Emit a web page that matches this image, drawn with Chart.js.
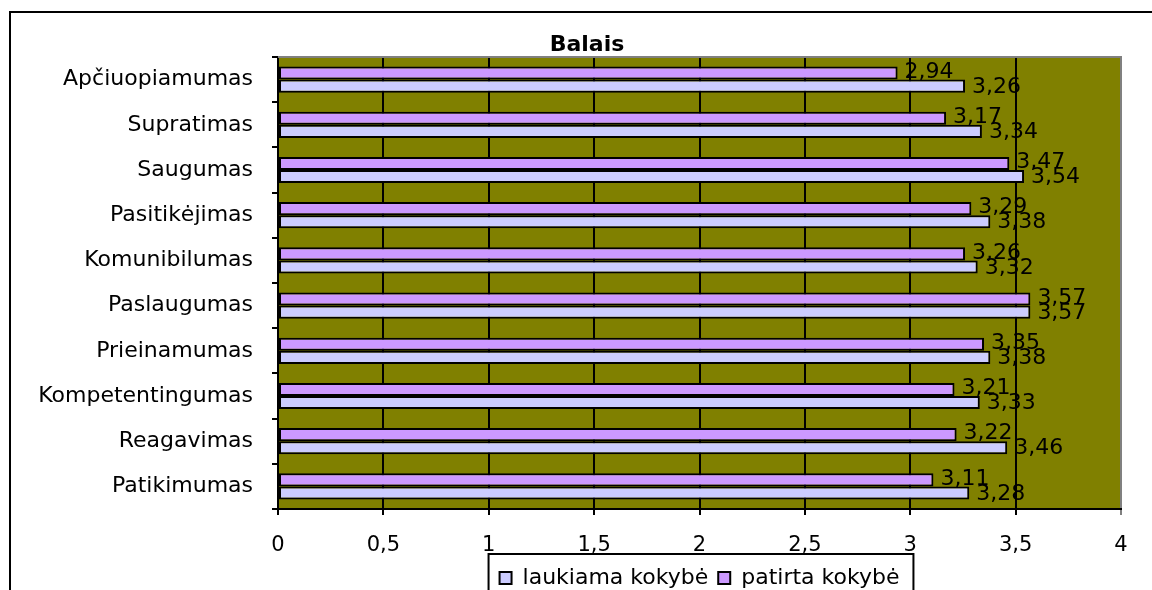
<!DOCTYPE html>
<html>
<head>
<meta charset="utf-8">
<script src="https://cdn.jsdelivr.net/npm/chart.js@4/dist/chart.umd.min.js"></script>
<style>
  body { margin: 0; background: #fff; }
  canvas { display: block; }
</style>
</head>
<body>
<canvas id="kokybeChart" width="1152" height="590"></canvas>
<script>
const categories = [
  "Apčiuopiamumas",
  "Supratimas",
  "Saugumas",
  "Pasitikėjimas",
  "Komunibilumas",
  "Paslaugumas",
  "Prieinamumas",
  "Kompetentingumas",
  "Reagavimas",
  "Patikimumas"
];
const laukiama = [3.26, 3.34, 3.54, 3.38, 3.32, 3.57, 3.38, 3.33, 3.46, 3.28];
const patirta  = [2.94, 3.17, 3.47, 3.29, 3.26, 3.57, 3.35, 3.21, 3.22, 3.11];
const xTicks = [0, 0.5, 1, 1.5, 2, 2.5, 3, 3.5, 4];
const chartTitle = "Balais";

const FONT = "'DejaVu Sans', sans-serif";

function fmt(v) {
  return String(v).replace(".", ",");
}

// olive plot background, outer frame, grey top edge of the plot, title
const backdrop = {
  id: "backdrop",
  beforeDraw(chart) {
    const { ctx, chartArea: a } = chart;
    ctx.save();
    ctx.fillStyle = "#000";
    ctx.fillRect(9, 11, 2, 700);
    ctx.fillRect(9, 11, 1300, 2);
    ctx.fillStyle = "#808000";
    ctx.fillRect(a.left, a.top, a.right - a.left, a.bottom - a.top);
    // title sits centred on the outer frame, not on the plot
    ctx.fillStyle = "#000";
    ctx.font = "bold 22px " + FONT;
    ctx.textAlign = "center";
    ctx.textBaseline = "middle";
    ctx.fillText(chartTitle, 587, 45);
    ctx.restore();
  },
  beforeDatasetsDraw(chart) {
    const { ctx, chartArea: a } = chart;
    ctx.save();
    ctx.fillStyle = "#808080";
    ctx.fillRect(a.left, a.top - 1, a.right - a.left + 1, 2);
    ctx.restore();
  }
};

// value labels at bar ends + box round the legend
const valueLabels = {
  id: "valueLabels",
  afterDatasetsDraw(chart) {
    const { ctx } = chart;
    ctx.save();
    ctx.font = "22px " + FONT;
    ctx.fillStyle = "#000";
    ctx.textAlign = "left";
    ctx.textBaseline = "middle";
    chart.data.datasets.forEach((ds, i) => {
      const meta = chart.getDatasetMeta(i);
      const dy = i === 0 ? -1 : 1;
      meta.data.forEach((bar, j) => {
        ctx.fillText(ds.data[j].toFixed(2).replace(".", ","), bar.x + 7, bar.y + dy);
      });
    });
    ctx.restore();
  },
  afterDraw(chart) {
    const lg = chart.legend;
    if (!lg || !lg.legendHitBoxes.length) return;
    const hb = lg.legendHitBoxes;
    const first = hb[0];
    const last = hb[hb.length - 1];
    const ctx = chart.ctx;
    ctx.save();
    ctx.strokeStyle = "#000";
    ctx.lineWidth = 2;
    ctx.strokeRect(first.left - 11, 554, last.left + last.width + 14 - (first.left - 11), 60);
    ctx.restore();
  }
};

const ctx = document.getElementById("kokybeChart").getContext("2d");
new Chart(ctx, {
  type: "bar",
  data: {
    labels: categories,
    datasets: [
      {
        label: "patirta kokybė",
        data: patirta,
        backgroundColor: "#CC99FF",
        borderColor: "#000",
        borderWidth: 2,
        borderSkipped: false
      },
      {
        label: "laukiama kokybė",
        data: laukiama,
        backgroundColor: "#CCCCFF",
        borderColor: "#000",
        borderWidth: 2,
        borderSkipped: false
      }
    ]
  },
  options: {
    indexAxis: "y",
    responsive: false,
    animation: false,
    datasets: {
      bar: { categoryPercentage: 0.58, barPercentage: 1 }
    },
    layout: { padding: { left: 0, right: 31, top: 57, bottom: -9 } },
    scales: {
      x: {
        min: 0,
        max: 4,
        afterBuildTicks(scale) {
          scale.ticks = xTicks.map(v => ({ value: v }));
        },
        ticks: {
          callback: v => fmt(v),
          font: { family: FONT, size: 21 },
          color: "#000",
          padding: 18,
          maxRotation: 0
        },
        grid: {
          color: c => (c.tick && c.tick.value === 4 ? "#808080" : "#000"),
          lineWidth: 2,
          tickLength: 6
        },
        border: { color: "#000", width: 2 },
        afterFit(scale) { scale.height = 48; }
      },
      y: {
        ticks: {
          font: { family: FONT, size: 22 },
          color: "#000",
          padding: 19
        },
        grid: {
          drawOnChartArea: false,
          color: "#000",
          lineWidth: 2,
          tickLength: 6
        },
        border: { color: "#000", width: 2 },
        afterFit(scale) { scale.width = 278; }
      }
    },
    plugins: {
      title: { display: false },
      legend: {
        position: "bottom",
        fullSize: false,
        reverse: true,
        labels: {
          boxWidth: 12,
          boxHeight: 12,
          padding: 10,
          color: "#000",
          font: { family: FONT, size: 22 }
        }
      },
      tooltip: { enabled: false }
    }
  },
  plugins: [backdrop, valueLabels]
});
</script>
</body>
</html>
